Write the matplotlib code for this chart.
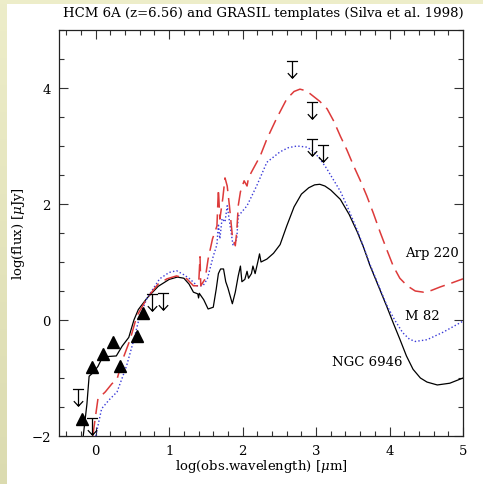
import numpy as np
import matplotlib
matplotlib.use("Agg")
import matplotlib.pyplot as plt
from matplotlib.path import Path
from matplotlib.patches import Rectangle

# ---------------- data ----------------
ngc_x = [-0.17, -0.12, -0.09, -0.03, 0.03, 0.10, 0.16, 0.28, 0.36, 0.45, 0.52, 0.58, 0.70,
         0.85, 1.00, 1.11, 1.20, 1.27, 1.33, 1.39, 1.40, 1.41, 1.47, 1.53, 1.60, 1.64, 1.67,
         1.70, 1.74, 1.77, 1.80, 1.86, 1.90, 1.94, 1.97, 1.99, 2.03, 2.06, 2.08, 2.12, 2.14,
         2.17, 2.21, 2.23, 2.25, 2.33, 2.42, 2.51, 2.60, 2.70, 2.80, 2.90, 2.98, 3.05, 3.12,
         3.20, 3.33, 3.45, 3.56, 3.65, 3.73, 3.85, 3.96, 4.05, 4.14, 4.23, 4.32, 4.42, 4.51,
         4.65, 4.82, 5.00]
ngc_y = [-2.00, -1.45, -0.97, -0.90, -0.80, -0.62, -0.63, -0.62, -0.45, -0.30, 0.00, 0.18, 0.38,
         0.58, 0.70, 0.74, 0.72, 0.62, 0.48, 0.45, 0.38, 0.46, 0.35, 0.19, 0.22, 0.53, 0.80,
         0.88, 0.88, 0.66, 0.55, 0.28, 0.48, 0.76, 0.93, 0.66, 0.70, 0.84, 0.72, 0.80, 0.93,
         0.80, 1.02, 1.14, 1.00, 1.05, 1.15, 1.30, 1.62, 1.95, 2.17, 2.28, 2.33, 2.34, 2.31,
         2.24, 2.08, 1.82, 1.52, 1.24, 0.95, 0.58, 0.24, -0.05, -0.33, -0.62, -0.85, -1.00, -1.07,
         -1.12, -1.09, -1.00]

m82_x = [0.00, 0.08, 0.18, 0.29, 0.36, 0.42, 0.51, 0.60, 0.70, 0.87, 1.00, 1.10, 1.20, 1.28,
         1.38, 1.46, 1.52, 1.60, 1.65, 1.67, 1.69, 1.72, 1.76, 1.79, 1.83, 1.87, 1.92, 1.94,
         2.06, 2.19, 2.33, 2.51, 2.62, 2.74, 2.88, 2.97, 3.05, 3.14, 3.23, 3.33, 3.42, 3.56,
         3.65, 3.73, 3.85, 3.96, 4.07, 4.18, 4.27, 4.35, 4.51, 4.73, 5.00]
m82_y = [-2.00, -1.53, -1.38, -1.24, -1.00, -0.79, -0.38, 0.07, 0.38, 0.71, 0.82, 0.85, 0.78, 0.71,
         0.59, 0.59, 0.71, 1.10, 1.30, 1.66, 1.40, 1.75, 1.69, 1.97, 1.62, 1.28, 1.40, 1.79,
         1.97, 2.31, 2.72, 2.90, 2.97, 3.00, 2.98, 2.90, 2.78, 2.62, 2.43, 2.22, 1.97, 1.55,
         1.25, 0.97, 0.60, 0.26, 0.00, -0.22, -0.33, -0.37, -0.34, -0.21, -0.02]

arp_x = [-0.04, 0.03, 0.13, 0.22, 0.29, 0.37, 0.47, 0.56, 0.70, 0.85, 0.97, 1.10, 1.24, 1.33,
         1.40, 1.42, 1.43, 1.49, 1.53, 1.59, 1.65, 1.67, 1.69, 1.73, 1.76, 1.79, 1.82, 1.86,
         1.90, 1.92, 1.94, 1.97, 2.02, 2.06, 2.08, 2.12, 2.24, 2.33, 2.46, 2.60, 2.70, 2.78,
         2.87, 2.96, 3.05, 3.15, 3.24, 3.33, 3.42, 3.51, 3.60, 3.69, 3.78, 3.87, 3.96, 4.05,
         4.14, 4.24, 4.35, 4.46, 4.57, 4.69, 4.85, 5.00]
arp_y = [-2.00, -1.36, -1.24, -1.10, -1.02, -0.67, -0.33, 0.07, 0.38, 0.62, 0.71, 0.76, 0.71, 0.59,
         0.59, 1.09, 0.59, 0.71, 1.05, 1.40, 1.62, 2.26, 1.74, 2.10, 2.45, 2.31, 1.97, 1.45,
         1.28, 1.52, 1.97, 2.21, 2.40, 2.31, 2.45, 2.55, 2.83, 3.12, 3.47, 3.81, 3.94, 3.98,
         3.95, 3.86, 3.77, 3.64, 3.43, 3.17, 2.93, 2.66, 2.41, 2.14, 1.84, 1.52, 1.22, 0.93,
         0.72, 0.59, 0.50, 0.48, 0.51, 0.57, 0.64, 0.71]

det_x = [-0.19, -0.05, 0.10, 0.23, 0.33, 0.56, 0.65]
det_y = [-1.71, -0.81, -0.59, -0.38, -0.79, -0.28, 0.12]

ul_x = [-0.24, -0.05, 0.76, 0.92, 2.67, 2.95, 2.95, 3.10]
ul_y = [-1.19, -1.69, 0.45, 0.47, 4.47, 3.76, 3.12, 3.02]

label_names = ["Arp 220", "M 82", "NGC 6946"]
label_x = [4.21, 4.21, 3.22]
label_y = [1.17, 0.07, -0.72]

title = "HCM 6A (z=6.56) and GRASIL templates (Silva et al. 1998)"
xlabel = r"log(obs.wavelength) [$\mu$m]"
ylabel = r"log(flux) [$\mu$Jy]"

# ---------------- figure ----------------
plt.rcParams['font.family'] = ['DejaVu Serif']
plt.rcParams['mathtext.fontset'] = 'dejavuserif'

W, H = 483, 485
fig = plt.figure(figsize=(W / 100, H / 100), dpi=100)

# background: pale yellow gradient frame on left/top
bg = fig.add_axes([0, 0, 1, 1], zorder=-10)
grad = np.linspace(0, 1, 256).reshape(-1, 1)
c_top = np.array([0.93, 0.93, 0.79])
c_bot = np.array([0.86, 0.86, 0.69])
img = c_top[None, None, :] * (1 - grad[:, :, None]) + c_bot[None, None, :] * grad[:, :, None]
bg.imshow(img, aspect='auto', extent=[0, 1, 0, 1])
bg.add_patch(Rectangle((7 / W, 0), 1, 1 - 5 / H, transform=bg.transAxes,
                       facecolor='white', edgecolor='none'))
bg.set_xlim(0, 1); bg.set_ylim(0, 1)
bg.axis('off')

ax = fig.add_axes([59 / W, (H - 437) / H, (463 - 59) / W, (437 - 31) / H])
ax.set_xlim(-0.5, 5)
ax.set_ylim(-2, 5)

ax.plot(ngc_x, ngc_y, color='black', lw=0.9)
ax.plot(m82_x, m82_y, color='#3a3ad8', lw=1.0, linestyle=(0, (1, 1.6)))
ax.plot(arp_x, arp_y, color='#dd3a3a', lw=1.1, linestyle=(0, (10, 4.5)))

ax.plot(det_x, det_y, linestyle='none', marker='^', color='black', markersize=9)

# upper-limit marker: bar at the value, stem and open arrowhead downward
verts = [(-0.5, 0), (0.5, 0), (0, 0), (0, -1.5),
         (-0.42, -1.05), (0, -1.5), (0.42, -1.05)]
codes = [Path.MOVETO, Path.LINETO, Path.MOVETO, Path.LINETO,
         Path.MOVETO, Path.LINETO, Path.LINETO]
ul_marker = Path(verts, codes)
ax.plot(ul_x, ul_y, linestyle='none', marker=ul_marker, markersize=24,
        markerfacecolor='none', markeredgecolor='black', markeredgewidth=0.9)

for name, lx, ly in zip(label_names, label_x, label_y):
    ax.text(lx, ly, name, fontsize=9.5, ha='left', va='center')

ax.set_xticks(np.arange(0, 5.01, 1))
ax.set_xticks(np.arange(-0.4, 5.01, 0.2), minor=True)
ax.set_yticks(np.arange(-2, 5.01, 2))
ax.set_yticks(np.arange(-2, 5.01, 0.5), minor=True)
ax.set_xticklabels(['0', '1', '2', '3', '4', '5'])
ax.set_yticklabels(['\u22122', '0', '2', '4'])
ax.tick_params(which='both', direction='in', top=True, right=True, labelsize=9.5,
               width=0.8, color='#333333')
ax.tick_params(which='major', length=6.5, pad=6)
ax.tick_params(which='minor', length=3.3)
for s in ax.spines.values():
    s.set_linewidth(0.9)
    s.set_color('#222222')

ax.set_xlabel(xlabel, fontsize=9.5, labelpad=0)
ax.set_ylabel(ylabel, fontsize=9.5, labelpad=3)
fig.text(263 / W, 1 - 14 / H, title, fontsize=9.5, ha='center', va='center')

fig.savefig('out.png', dpi=100)
